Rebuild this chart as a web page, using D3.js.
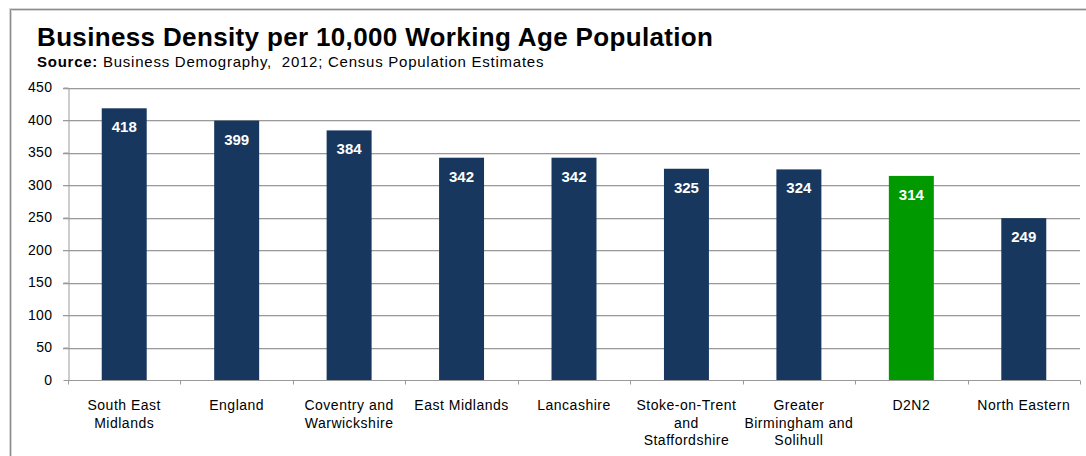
<!DOCTYPE html>
<html>
<head>
<meta charset="utf-8">
<script src="https://cdn.jsdelivr.net/npm/d3@7"></script>
<style>
  html, body { margin: 0; padding: 0; background: #fff; }
  svg { display: block; font-family: "Liberation Sans", Arial, sans-serif; }
</style>
</head>
<body>
<svg id="chart" width="1086" height="456"></svg>
<script>
// Business density per 10,000 working-age population, by area
const categories = [
  ["South East", "Midlands"],
  ["England"],
  ["Coventry and", "Warwickshire"],
  ["East Midlands"],
  ["Lancashire"],
  ["Stoke-on-Trent", "and", "Staffordshire"],
  ["Greater", "Birmingham and", "Solihull"],
  ["D2N2"],
  ["North Eastern"]
];
const values = [418, 399, 384, 342, 342, 325, 324, 314, 249];
const highlight = "D2N2";
const yTicks = [0, 50, 100, 150, 200, 250, 300, 350, 400, 450];

const svg = d3.select("#chart");
const margin = { left: 68, right: 1080, top: 87.5, bottom: 380 };

// outer frame
svg.append("path")
  .attr("d", "M10.5,456 V9.5 H1086")
  .attr("fill", "none").attr("stroke", "#d6d6d6").attr("stroke-width", 3);
svg.append("path")
  .attr("d", "M10.5,456 V9.5 H1086")
  .attr("fill", "none").attr("stroke", "#8c8c8c").attr("stroke-width", 1);

// title and source
svg.append("text")
  .attr("x", 37).attr("y", 46)
  .attr("font-size", 26).attr("font-weight", "bold").attr("fill", "#000")
  .attr("letter-spacing", 0.35)
  .text("Business Density per 10,000 Working Age Population");
const src = svg.append("text")
  .attr("x", 37).attr("y", 67)
  .attr("font-size", 15).attr("fill", "#000")
  .attr("letter-spacing", 0.75)
  .attr("xml:space", "preserve")
  .style("white-space", "pre");
src.append("tspan").attr("font-weight", "bold").text("Source:");
src.append("tspan").text(" Business Demography,  2012; Census Population Estimates");

const keys = categories.map(c => c.join(" "));
const x = d3.scaleBand().domain(keys).range([margin.left, margin.right]).paddingInner(0.6).paddingOuter(0.3);
const xb = d3.scaleBand().domain(keys).range([margin.left, margin.right]);
const y = d3.scaleLinear().domain([0, 450]).range([margin.bottom, margin.top]);

// gridlines with a faint shadow
const grid = svg.append("g");
yTicks.filter(t => t > 0).forEach(t => {
  const yy = Math.round(y(t)) + 0.5;
  grid.append("line").attr("x1", margin.left - 5).attr("x2", margin.right)
    .attr("y1", yy + 1).attr("y2", yy + 1).attr("stroke", "#e2e2e2");
  grid.append("line").attr("x1", margin.left - 5).attr("x2", margin.right)
    .attr("y1", yy).attr("y2", yy).attr("stroke", "#9a9a9a");
});

// y axis
const yAxis = svg.append("g")
  .attr("transform", `translate(${margin.left + 0.5},0)`)
  .call(d3.axisLeft(y).tickValues(yTicks).tickSize(5).tickPadding(11).tickSizeOuter(0));
yAxis.select(".domain").attr("stroke", "#9a9a9a");
yAxis.selectAll(".tick line").attr("stroke", "#9a9a9a");
yAxis.selectAll(".tick text").attr("font-size", 14).attr("fill", "#000")
  .attr("letter-spacing", 0.4)
  .attr("font-family", "Liberation Sans, Arial, sans-serif");

// bars
svg.append("g").selectAll("rect")
  .data(values)
  .join("rect")
  .attr("x", (d, i) => x(keys[i]))
  .attr("width", x.bandwidth())
  .attr("y", d => y(d))
  .attr("height", d => y(0) - y(d))
  .attr("fill", (d, i) => keys[i] === highlight ? "#009900" : "#17375e");

// value labels
svg.append("g").selectAll("text")
  .data(values)
  .join("text")
  .attr("x", (d, i) => x(keys[i]) + x.bandwidth() / 2)
  .attr("y", d => y(d) + 24)
  .attr("text-anchor", "middle")
  .attr("font-size", 15).attr("font-weight", "bold").attr("fill", "#fff")
  .text(d => d);

// x axis with boundary ticks
const base = Math.round(y(0)) + 0.5;
const xg = svg.append("g");
xg.append("line").attr("x1", margin.left).attr("x2", margin.right)
  .attr("y1", base).attr("y2", base).attr("stroke", "#9a9a9a");
const bounds = keys.map(k => xb(k)).concat([margin.right]);
bounds.forEach(b => {
  const bx = Math.round(b) + 0.5;
  xg.append("line").attr("x1", bx).attr("x2", bx)
    .attr("y1", base).attr("y2", base + 4).attr("stroke", "#9a9a9a");
});

// category labels
const labels = svg.append("g");
categories.forEach((lines, i) => {
  const t = labels.append("text")
    .attr("x", xb(keys[i]) + xb.bandwidth() / 2)
    .attr("y", 410)
    .attr("text-anchor", "middle")
    .attr("font-size", 14).attr("fill", "#000")
    .attr("letter-spacing", 0.5);
  lines.forEach((ln, j) => {
    t.append("tspan").attr("x", xb(keys[i]) + xb.bandwidth() / 2)
      .attr("dy", j === 0 ? 0 : 17.5).text(ln);
  });
});
</script>
</body>
</html>
